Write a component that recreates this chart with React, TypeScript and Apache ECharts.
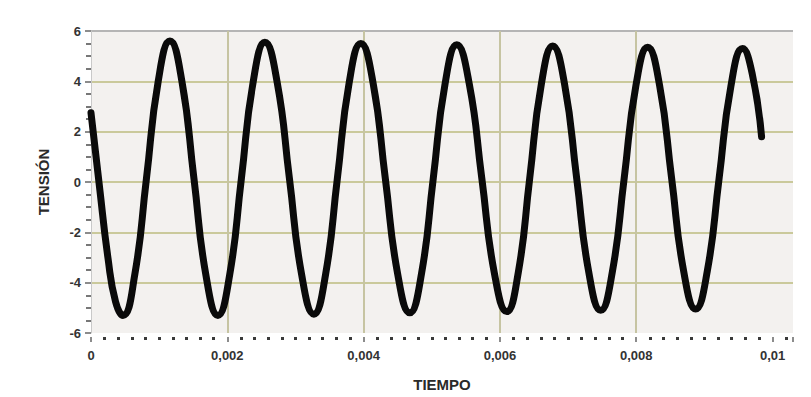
import React, { useEffect, useRef } from "react";
import * as echarts from "echarts";

// Tiempo (s) y tensión
const tiempo: number[] = [
  0, 0.00012, 0.00025, 0.00036, 0.000469,
  0.000641, 0.000814, 0.000986, 0.001158,
  0.001334, 0.00151, 0.001686, 0.001862,
  0.002034, 0.002207, 0.002379, 0.002551,
  0.002731, 0.002911, 0.00309, 0.00327,
  0.003442, 0.003615, 0.003787, 0.003959,
  0.004139, 0.004318, 0.004498, 0.004677,
  0.00485, 0.005022, 0.005195, 0.005367,
  0.00555, 0.005734, 0.005917, 0.0061,
  0.006269, 0.006437, 0.006606, 0.006774,
  0.00695, 0.007126, 0.007302, 0.007478,
  0.00765, 0.007823, 0.007995, 0.008167,
  0.008343, 0.008519, 0.008695, 0.008871,
  0.009043, 0.009216, 0.009388, 0.00956,
  0.0097, 0.009839,
];
const tension: number[] = [
  2.75, -0.08, -3.04, -4.75, -5.3,
  -3.7, 0.15, 4.0, 5.6,
  4.0, 0.15, -3.7, -5.3,
  -3.7, 0.15, 3.97, 5.55,
  3.97, 0.15, -3.67, -5.25,
  -3.67, 0.15, 3.93, 5.5,
  3.93, 0.15, -3.63, -5.2,
  -3.63, 0.15, 3.9, 5.45,
  3.9, 0.15, -3.6, -5.15,
  -3.6, 0.15, 3.86, 5.4,
  3.86, 0.15, -3.56, -5.1,
  -3.56, 0.15, 3.83, 5.35,
  3.83, 0.15, -3.53, -5.05,
  -3.53, 0.15, 3.79, 5.3,
  4.32, 1.8,
];
const verticalGrid: number[] = [0.002, 0.004, 0.006, 0.008];
const xTickLabels: Record<string, string> = {
  "0": "0",
  "0.002": "0,002",
  "0.004": "0,004",
  "0.006": "0,006",
  "0.008": "0,008",
  "0.01": "0,01",
};

const FONT = "'Liberation Sans Narrow', 'Liberation Sans', Arial, sans-serif";
const OLIVE = "#cac99b";

export default function App() {
  const ref = useRef<HTMLDivElement>(null);
  useEffect(() => {
    if (!ref.current) return;
    const chart = echarts.init(ref.current, undefined, { renderer: "svg" });
    const data = tiempo.map((t, i) => [t, tension[i]]);
    chart.setOption({
      animation: false,
      backgroundColor: "#ffffff",
      grid: {
        left: 91,
        right: 18,
        top: 31,
        bottom: 59,
        show: true,
        backgroundColor: "#f3f1ef",
        borderWidth: 0,
      },
      xAxis: {
        type: "value",
        min: 0,
        max: 0.0103,
        interval: 0.002,
        offset: 4,
        name: "TIEMPO",
        nameLocation: "middle",
        nameGap: 40,
        nameTextStyle: {
          fontFamily: FONT,
          fontWeight: "bold",
          fontSize: 15,
          color: "#2a2a2a",
        },
        axisLine: { show: false, onZero: false },
        axisTick: {
          show: true,
          length: 5,
          lineStyle: { color: "#666", width: 1.5 },
        },
        minorTick: {
          show: true,
          splitNumber: 10,
          length: 3,
          lineStyle: { color: "#3a3a3a", width: 3 },
        },
        splitLine: { show: false },
        axisLabel: {
          showMaxLabel: false,
          margin: 12,
          fontFamily: FONT,
          fontWeight: "bold",
          fontSize: 13,
          color: "#333",
          formatter: (v: number) => {
            const k = String(parseFloat(v.toFixed(4)));
            return xTickLabels[k] ?? "";
          },
        },
      },
      yAxis: {
        type: "value",
        min: -6,
        max: 6,
        interval: 2,
        name: "TENSIÓN",
        nameLocation: "middle",
        nameGap: 40,
        nameTextStyle: {
          fontFamily: FONT,
          fontWeight: "bold",
          fontSize: 15,
          color: "#2a2a2a",
        },
        axisLine: { show: true, onZero: false, lineStyle: { color: "#c9c9c9", width: 1 } },
        axisTick: {
          show: true,
          length: 6,
          lineStyle: { color: "#666", width: 1.5 },
        },
        minorTick: {
          show: true,
          splitNumber: 4,
          length: 5,
          lineStyle: { color: "#777", width: 2 },
        },
        splitLine: {
          show: true,
          lineStyle: {
            color: ["rgba(0,0,0,0)", OLIVE, OLIVE, OLIVE, OLIVE, OLIVE, "#b5b5b5"],
            width: 2,
          },
        },
        axisLabel: {
          margin: 10,
          fontFamily: FONT,
          fontWeight: "bold",
          fontSize: 13,
          color: "#333",
        },
      },
      series: [
        {
          type: "line",
          data,
          smooth: true,
          showSymbol: false,
          lineStyle: { color: "#0a0a0a", width: 7, cap: "round", join: "round" },
          markLine: {
            silent: true,
            symbol: "none",
            precision: 6,
            label: { show: false },
            lineStyle: { color: "#c6c4a2", width: 2, type: "solid" },
            data: verticalGrid.map((x) => ({ xAxis: x })),
            z: 1,
          },
          z: 3,
        },
      ],
    });
    return () => chart.dispose();
  }, []);
  return (
    <div
      ref={ref}
      style={{ position: "absolute", left: 0, top: 0, width: 811, height: 397 }}
    />
  );
}
